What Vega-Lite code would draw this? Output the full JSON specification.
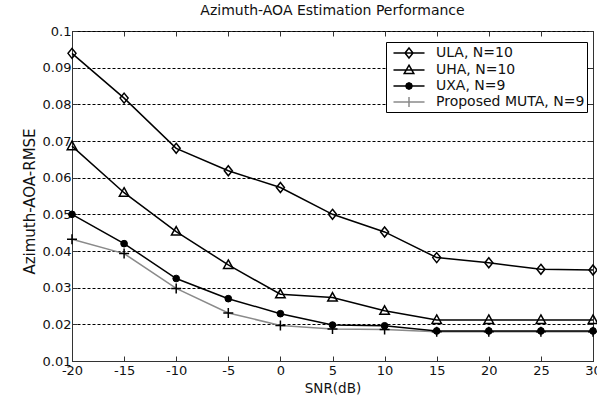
{
  "$schema": "https://vega.github.io/schema/vega-lite/v6.json",
  "width": 521,
  "height": 330,
  "autosize": "none",
  "padding": {"left": 72, "top": 31, "right": 4, "bottom": 34},
  "background": "white",
  "title": {"text": "Azimuth-AOA Estimation Performance", "fontSize": 14, "font": "DejaVu Sans", "fontWeight": "normal", "color": "#111111", "offset": 7, "anchor": "middle"},
  "config": {
    "view": {"stroke": "#333333", "strokeWidth": 1},
    "axis": {"labelFont": "DejaVu Sans", "labelFontSize": 13, "labelColor": "#111111", "titleFont": "DejaVu Sans", "titleFontSize": 13.5, "titleFontWeight": "normal", "titleColor": "#111111", "domainColor": "#333333", "tickColor": "#333333", "labelFlush": false, "labelOverlap": false},
    "legend": {"orient": "none", "legendX": 314, "legendY": 11, "strokeColor": "black", "fillColor": "white", "padding": 2, "symbolSize": 256, "symbolStrokeWidth": 1.5, "symbolOpacity": 1, "symbolOffset": 12, "labelFont": "DejaVu Sans", "labelFontSize": 14, "labelColor": "#111111", "rowPadding": 0, "labelOffset": 18}
  },
  "data": {"values": [
    {"snr": -20, "rmse": 0.0939, "series": "ULA, N=10"},
    {"snr": -15, "rmse": 0.0817, "series": "ULA, N=10"},
    {"snr": -10, "rmse": 0.068, "series": "ULA, N=10"},
    {"snr": -5, "rmse": 0.0619, "series": "ULA, N=10"},
    {"snr": 0, "rmse": 0.0573, "series": "ULA, N=10"},
    {"snr": 5, "rmse": 0.05, "series": "ULA, N=10"},
    {"snr": 10, "rmse": 0.0452, "series": "ULA, N=10"},
    {"snr": 15, "rmse": 0.0382, "series": "ULA, N=10"},
    {"snr": 20, "rmse": 0.0368, "series": "ULA, N=10"},
    {"snr": 25, "rmse": 0.035, "series": "ULA, N=10"},
    {"snr": 30, "rmse": 0.0348, "series": "ULA, N=10"},
    {"snr": -20, "rmse": 0.0686, "series": "UHA, N=10"},
    {"snr": -15, "rmse": 0.0559, "series": "UHA, N=10"},
    {"snr": -10, "rmse": 0.0453, "series": "UHA, N=10"},
    {"snr": -5, "rmse": 0.0362, "series": "UHA, N=10"},
    {"snr": 0, "rmse": 0.0282, "series": "UHA, N=10"},
    {"snr": 5, "rmse": 0.0273, "series": "UHA, N=10"},
    {"snr": 10, "rmse": 0.0237, "series": "UHA, N=10"},
    {"snr": 15, "rmse": 0.0212, "series": "UHA, N=10"},
    {"snr": 20, "rmse": 0.0212, "series": "UHA, N=10"},
    {"snr": 25, "rmse": 0.0212, "series": "UHA, N=10"},
    {"snr": 30, "rmse": 0.0212, "series": "UHA, N=10"},
    {"snr": -20, "rmse": 0.05, "series": "UXA, N=9"},
    {"snr": -15, "rmse": 0.042, "series": "UXA, N=9"},
    {"snr": -10, "rmse": 0.0325, "series": "UXA, N=9"},
    {"snr": -5, "rmse": 0.027, "series": "UXA, N=9"},
    {"snr": 0, "rmse": 0.0229, "series": "UXA, N=9"},
    {"snr": 5, "rmse": 0.0198, "series": "UXA, N=9"},
    {"snr": 10, "rmse": 0.0196, "series": "UXA, N=9"},
    {"snr": 15, "rmse": 0.0182, "series": "UXA, N=9"},
    {"snr": 20, "rmse": 0.0182, "series": "UXA, N=9"},
    {"snr": 25, "rmse": 0.0182, "series": "UXA, N=9"},
    {"snr": 30, "rmse": 0.0182, "series": "UXA, N=9"},
    {"snr": -20, "rmse": 0.0432, "series": "Proposed MUTA, N=9"},
    {"snr": -15, "rmse": 0.0393, "series": "Proposed MUTA, N=9"},
    {"snr": -10, "rmse": 0.0298, "series": "Proposed MUTA, N=9"},
    {"snr": -5, "rmse": 0.0231, "series": "Proposed MUTA, N=9"},
    {"snr": 0, "rmse": 0.0197, "series": "Proposed MUTA, N=9"},
    {"snr": 5, "rmse": 0.0187, "series": "Proposed MUTA, N=9"},
    {"snr": 10, "rmse": 0.0186, "series": "Proposed MUTA, N=9"},
    {"snr": 15, "rmse": 0.018, "series": "Proposed MUTA, N=9"},
    {"snr": 20, "rmse": 0.018, "series": "Proposed MUTA, N=9"},
    {"snr": 25, "rmse": 0.018, "series": "Proposed MUTA, N=9"},
    {"snr": 30, "rmse": 0.018, "series": "Proposed MUTA, N=9"}
  ]},
  "layer": [
    {
      "transform": [{"filter": "datum.series === 'Proposed MUTA, N=9'"}],
      "mark": {"type": "line", "strokeWidth": 1.5, "stroke": "#8a8a8a"},
      "encoding": {
        "x": {"field": "snr", "type": "quantitative", "scale": {"domain": [-20, 30], "nice": false, "zero": false},
              "axis": {"orient": "bottom", "values": [-20, -15, -10, -5, 0, 5, 10, 15, 20, 25, 30], "title": "SNR(dB)", "grid": false, "tickSize": -5, "labelPadding": 8, "titlePadding": 4, "labelExpr": "'' + datum.value"}},
        "y": {"field": "rmse", "type": "quantitative", "scale": {"domain": [0.01, 0.1], "nice": false, "zero": false},
              "axis": {"orient": "left", "values": [0.01, 0.02, 0.03, 0.04, 0.05, 0.06, 0.07, 0.08, 0.09, 0.1], "format": ".2~f", "title": "Azimuth-AOA-RMSE", "titleFontSize": 15, "titleY": 170, "grid": true, "gridColor": "black", "gridDash": [3, 2], "gridOpacity": 1, "tickSize": -5, "labelPadding": 6, "titlePadding": 5}},
        "order": {"field": "snr", "type": "quantitative"}
      }
    },
    {
      "transform": [{"filter": "datum.series !== 'Proposed MUTA, N=9'"}],
      "mark": {"type": "line", "strokeWidth": 1.5, "stroke": "black"},
      "encoding": {
        "x": {"field": "snr", "type": "quantitative", "axis": null},
        "y": {"field": "rmse", "type": "quantitative", "axis": null},
        "detail": {"field": "series", "type": "nominal"},
        "order": {"field": "snr", "type": "quantitative"}
      }
    },
    {
      "transform": [{"filter": "datum.series === 'ULA, N=10'"}],
      "mark": {"type": "point", "shape": "M0,-1L0.8,0L0,1L-0.8,0Z", "size": 100, "filled": false, "stroke": "black", "strokeWidth": 1.5, "opacity": 1},
      "encoding": {"x": {"field": "snr", "type": "quantitative", "axis": null}, "y": {"field": "rmse", "type": "quantitative", "axis": null}}
    },
    {
      "transform": [{"filter": "datum.series === 'UHA, N=10'"}],
      "mark": {"type": "point", "shape": "M0,-1L0.95,0.7L-0.95,0.7Z", "size": 100, "filled": false, "stroke": "black", "strokeWidth": 1.5, "opacity": 1},
      "encoding": {"x": {"field": "snr", "type": "quantitative", "axis": null}, "y": {"field": "rmse", "type": "quantitative", "axis": null}}
    },
    {
      "transform": [{"filter": "datum.series === 'UXA, N=9'"}],
      "mark": {"type": "point", "shape": "circle", "size": 45, "filled": true, "fill": "black", "stroke": "black", "strokeWidth": 1, "opacity": 1},
      "encoding": {"x": {"field": "snr", "type": "quantitative", "axis": null}, "y": {"field": "rmse", "type": "quantitative", "axis": null}}
    },
    {
      "transform": [{"filter": "datum.series === 'Proposed MUTA, N=9'"}],
      "mark": {"type": "point", "shape": "M-1,0H1M0,-1V1", "size": 100, "filled": false, "stroke": "black", "strokeWidth": 1.5, "opacity": 1},
      "encoding": {"x": {"field": "snr", "type": "quantitative", "axis": null}, "y": {"field": "rmse", "type": "quantitative", "axis": null}}
    },
    {
      "transform": [{"filter": "datum.snr > 1000"}],
      "mark": {"type": "point", "filled": false},
      "encoding": {
        "x": {"field": "snr", "type": "quantitative", "axis": {"orient": "top", "values": [-20, -15, -10, -5, 0, 5, 10, 15, 20, 25, 30], "labels": false, "title": null, "grid": false, "domain": false, "tickSize": -5}},
        "y": {"field": "rmse", "type": "quantitative", "axis": {"orient": "right", "values": [0.01, 0.02, 0.03, 0.04, 0.05, 0.06, 0.07, 0.08, 0.09, 0.1], "labels": false, "title": null, "grid": false, "domain": false, "tickSize": -5}},
        "shape": {"field": "series", "type": "nominal", "scale": {"domain": ["ULA, N=10", "UHA, N=10", "UXA, N=9", "Proposed MUTA, N=9"], "range": ["M-1.94,0H1.94M0,-0.62L0.5,0L0,0.62L-0.5,0Z", "M-1.94,0H1.94M0,-0.6L0.6,0.45L-0.6,0.45Z", "M-1.94,0H1.94M0.4,0L0.28,0.28L0,0.4L-0.28,0.28L-0.4,0L-0.28,-0.28L0,-0.4L0.28,-0.28Z", "M-1.94,0H1.94M0,-0.62V0.62"]}, "legend": {"title": null, "orient": "none", "legendX": 314, "legendY": 11}},
        "stroke": {"field": "series", "type": "nominal", "scale": {"domain": ["ULA, N=10", "UHA, N=10", "UXA, N=9", "Proposed MUTA, N=9"], "range": ["black", "black", "black", "#8a8a8a"]}, "legend": {"title": null, "orient": "none", "legendX": 314, "legendY": 11}},
        "fill": {"field": "series", "type": "nominal", "scale": {"domain": ["ULA, N=10", "UHA, N=10", "UXA, N=9", "Proposed MUTA, N=9"], "range": ["white", "white", "black", "white"]}, "legend": {"title": null, "orient": "none", "legendX": 314, "legendY": 11}}
      }
    }
  ],
  "resolve": {"axis": {"x": "independent", "y": "independent"}}
}
